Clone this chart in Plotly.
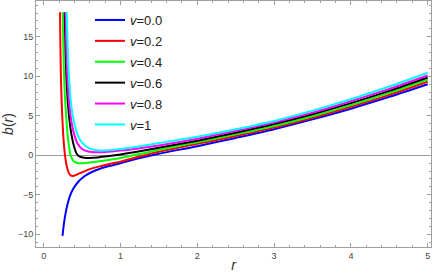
import plotly.graph_objects as go

# ---- data ----
labels = ["<i>v</i>=0.0", "<i>v</i>=0.2", "<i>v</i>=0.4", "<i>v</i>=0.6", "<i>v</i>=0.8", "<i>v</i>=1"]
colors = ["#0000FF", "#FF0000", "#00FF00", "#000000", "#FF00FF", "#00FFFF"]

r_v00 = [0.245, 0.26, 0.28, 0.31, 0.34, 0.385, 0.45, 0.53, 0.62, 0.75, 0.9, 1.0, 1.25, 1.5, 2.0, 2.5, 3.0, 3.5, 4.0, 4.5, 5.0]
b_v00 = [-10.2, -8.9, -7.6, -6.2, -5.2, -4.25, -3.35, -2.65, -2.15, -1.65, -1.25, -1.0, -0.35, 0.2, 1.15, 2.2, 3.3, 4.55, 5.9, 7.4, 9.0]

r_v02 = [0.212, 0.217, 0.224, 0.233, 0.245, 0.26, 0.28, 0.30, 0.325, 0.35, 0.38, 0.42, 0.5, 0.6, 0.75, 0.9, 1.0, 1.25, 1.5, 2.0, 2.5, 3.0, 3.5, 4.0, 4.5, 5.0]
b_v02 = [18.1, 14.0, 10.0, 7.0, 4.2, 1.8, -0.2, -1.4, -2.2, -2.55, -2.62, -2.5, -2.15, -1.75, -1.35, -1.0, -0.8, -0.15, 0.45, 1.45, 2.45, 3.5, 4.75, 6.15, 7.65, 9.3]

r_v04 = [0.247, 0.255, 0.265, 0.28, 0.30, 0.32, 0.35, 0.39, 0.45, 0.52, 0.6, 0.75, 0.9, 1.0, 1.25, 1.5, 2.0, 2.5, 3.0, 3.5, 4.0, 4.5, 5.0]
b_v04 = [18.1, 14.0, 10.0, 6.8, 3.9, 1.8, 0.0, -0.75, -1.0, -1.0, -0.92, -0.72, -0.5, -0.35, 0.15, 0.7, 1.65, 2.65, 3.7, 4.95, 6.35, 7.9, 9.6]

r_v06 = [0.273, 0.285, 0.30, 0.32, 0.35, 0.39, 0.43, 0.47, 0.53, 0.6, 0.7, 0.85, 1.0, 1.25, 1.5, 2.0, 2.5, 3.0, 3.5, 4.0, 4.5, 5.0]
b_v06 = [18.1, 13.0, 9.0, 6.0, 3.3, 1.3, 0.2, -0.18, -0.32, -0.33, -0.27, -0.1, 0.1, 0.5, 0.95, 1.85, 2.85, 3.95, 5.2, 6.6, 8.15, 9.85]

r_v08 = [0.286, 0.30, 0.32, 0.35, 0.39, 0.44, 0.5, 0.58, 0.67, 0.8, 1.0, 1.25, 1.5, 2.0, 2.5, 3.0, 3.5, 4.0, 4.5, 5.0]
b_v08 = [18.1, 12.0, 8.0, 5.0, 2.9, 1.5, 0.8, 0.48, 0.38, 0.42, 0.6, 0.9, 1.25, 2.1, 3.1, 4.15, 5.4, 6.85, 8.4, 10.1]

r_v10 = [0.30, 0.315, 0.335, 0.36, 0.40, 0.45, 0.5, 0.58, 0.67, 0.75, 0.85, 1.0, 1.25, 1.5, 2.0, 2.5, 3.0, 3.5, 4.0, 4.5, 5.0]
b_v10 = [18.1, 13.0, 9.0, 6.2, 4.0, 2.4, 1.6, 0.95, 0.68, 0.62, 0.65, 0.8, 1.15, 1.55, 2.35, 3.3, 4.35, 5.65, 7.1, 8.7, 10.45]

series_r = [r_v00, r_v02, r_v04, r_v06, r_v08, r_v10]
series_b = [b_v00, b_v02, b_v04, b_v06, b_v08, b_v10]

x_ticks = [0, 1, 2, 3, 4, 5]
y_ticks = [-10, -5, 0, 5, 10, 15]

fig = go.Figure()
for i, (rr, bb, lab, col) in enumerate(zip(series_r, series_b, labels, colors)):
    fig.add_trace(go.Scatter(x=rr, y=bb, mode="lines", name=lab, legendgroup=f"g{i}",
                             line=dict(color=col, width=2, shape="spline", smoothing=0.8)))

frame = "#a0a0a0"
font_family = "Liberation Sans, Arial, sans-serif"
tickfont = dict(family=font_family, size=9, color="#444")
common = dict(showline=True, linecolor=frame, linewidth=1, mirror="allticks",
              ticks="inside", ticklen=4, tickcolor=frame, tickwidth=1,
              showgrid=False, tickfont=tickfont, automargin=False)

fig.update_xaxes(range=[-0.1003, 5.043], tickvals=x_ticks, zeroline=False,
                 minor=dict(dtick=0.2, tick0=0, ticks="inside", ticklen=2, tickcolor=frame, showgrid=False),
                 title=dict(text="<i>r</i>", font=dict(family=font_family, size=14, color="#333"), standoff=2),
                 **common)
fig.update_yaxes(range=[-11.61, 19.53], tickvals=y_ticks,
                 zeroline=True, zerolinecolor="#999", zerolinewidth=1,
                 minor=dict(dtick=1, tick0=0, ticks="inside", ticklen=2, tickcolor=frame, showgrid=False),
                 title=dict(text="<i>b</i>(<i>r</i>)", font=dict(family=font_family, size=14, color="#333"), standoff=6),
                 **common)

fig.update_layout(
    width=436, height=273,
    margin=dict(l=36, r=5, t=1, b=26),
    paper_bgcolor="white", plot_bgcolor="white",
    showlegend=True,
    legend=dict(x=(90 - 36) / 395, y=1 - 4 / 246, xanchor="left", yanchor="top",
                bgcolor="rgba(0,0,0,0)", borderwidth=0,
                font=dict(family=font_family, size=13, color="#222"),
                tracegroupgap=1, itemwidth=30),
)

fig.write_html("out.html", config={"displayModeBar": False},
               post_script="document.body.style.margin='0';document.body.style.overflow='hidden';")
